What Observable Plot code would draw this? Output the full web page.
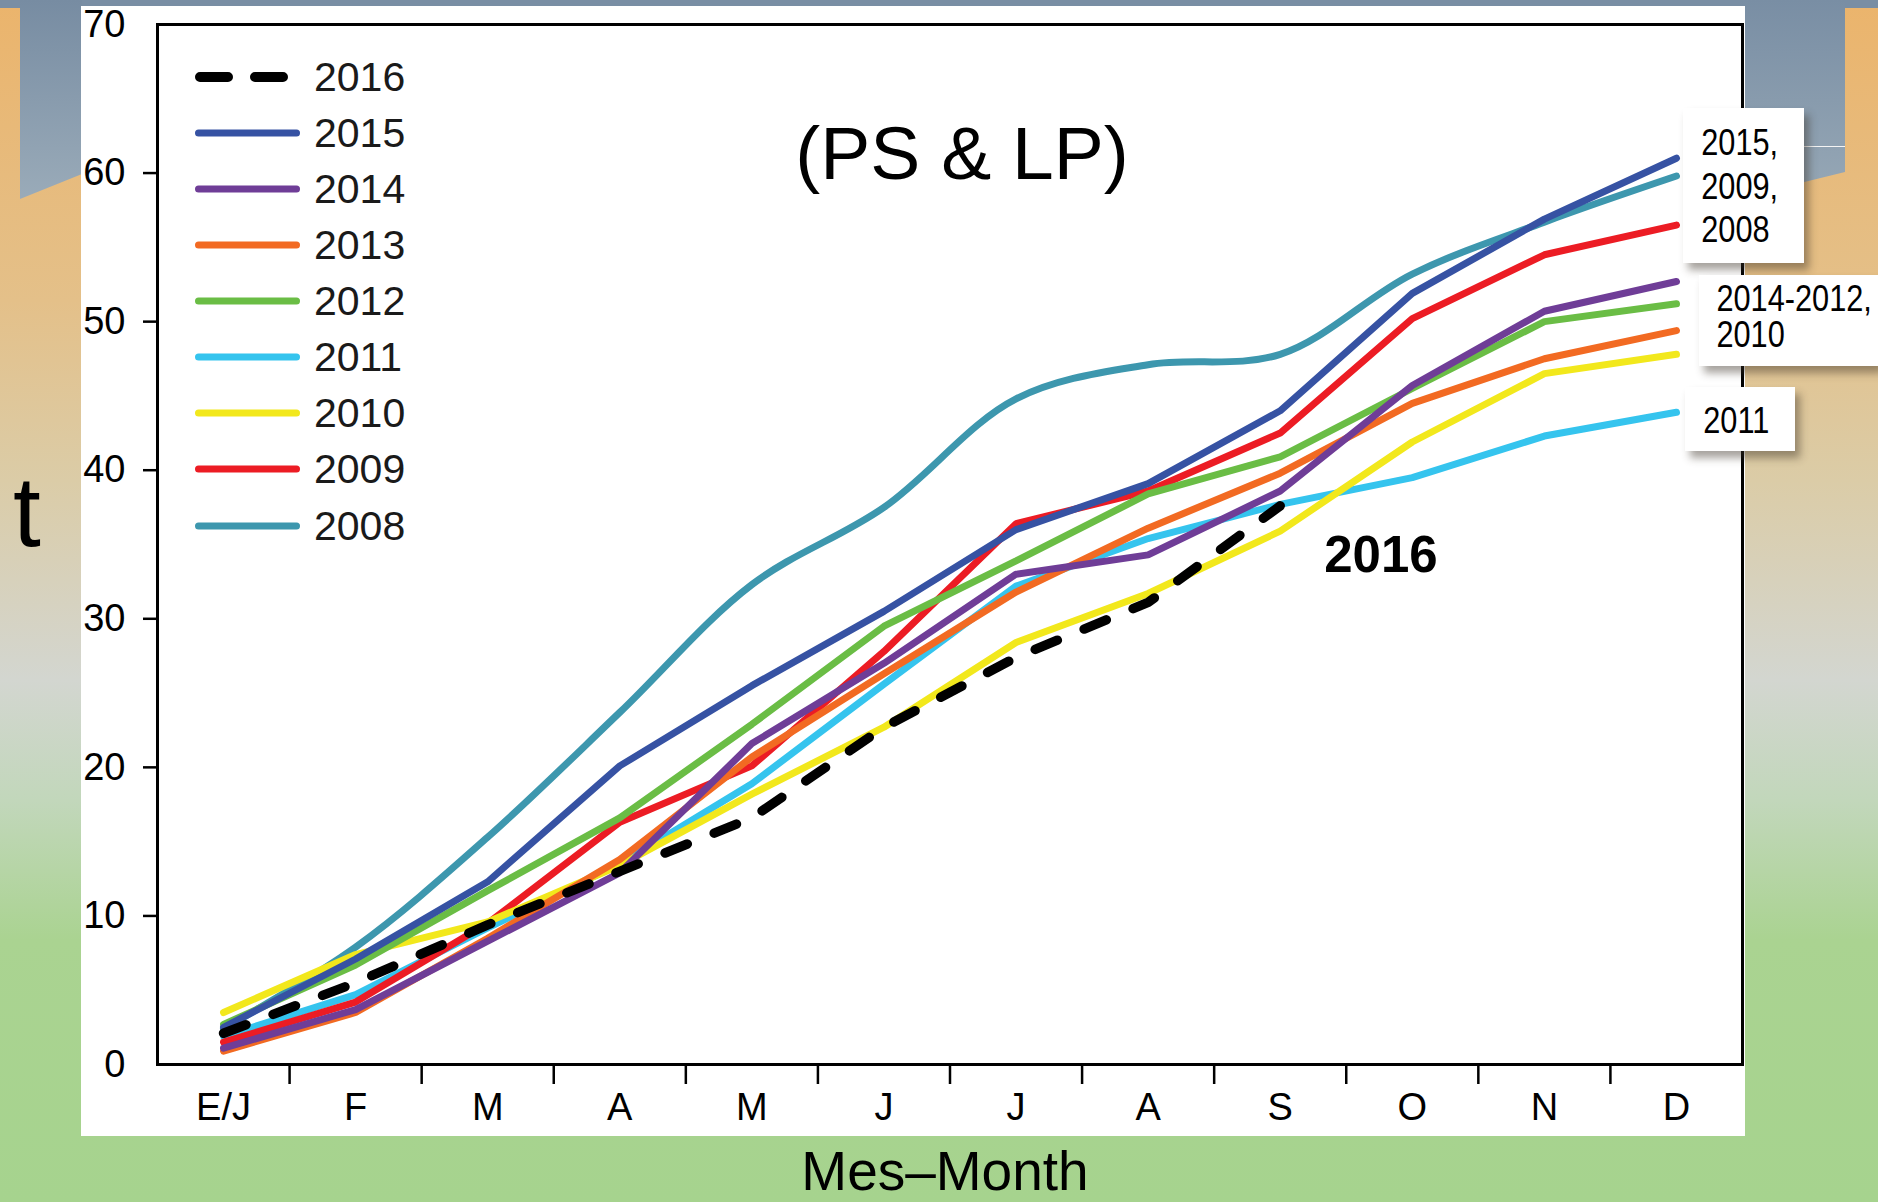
<!DOCTYPE html>
<html>
<head>
<meta charset="utf-8">
<script src="https://cdn.jsdelivr.net/npm/d3@7"></script>
<script src="https://cdn.jsdelivr.net/npm/@observablehq/plot@0.6"></script>
<style>
html, body { margin: 0; padding: 0; }
body {
  width: 1878px; height: 1202px; position: relative; overflow: hidden;
  background: linear-gradient(to bottom, #ebb46c 0px, #e4c089 300px, #dbcca7 480px, #d3d6d0 680px, #c2d7bb 800px, #aad391 940px, #a6d38e 1202px);
  font-family: "Liberation Sans", Arial, sans-serif;
}
.abs { position: absolute; }
#topstrip { left: 0; top: 0; width: 1878px; height: 8px; background: #798ea4; }
#leftblue { left: 20px; top: 0; width: 62px; height: 200px; background: linear-gradient(to bottom, #778ca2, #9aabb9); clip-path: polygon(0 0, 100% 0, 100% 174px, 0 199px); }
#rightblue { left: 1740px; top: 0; width: 105px; height: 200px; background: linear-gradient(to bottom, #798ea4, #97a8b6); clip-path: polygon(0 0, 100% 0, 100% 172px, 0 198px); }
#rightline { left: 1790px; top: 146px; width: 55px; height: 1px; background: #f4f4f4; }
#panel { left: 81px; top: 6px; width: 1664px; height: 1130px; background: #ffffff; }
#chart { left: 0; top: 0; }
#title { left: 0; width: 1924px; text-align: center; top: 116px; font-size: 75px; line-height: 75px; color: #000; }
#ylab { left: 13px; top: 461px; font-size: 100px; line-height: 100px; color: #000; }
#xlab { left: 0; width: 1890px; text-align: center; top: 1144px; font-size: 55px; line-height: 55px; color: #000; }
.lg { font-size: 41px; line-height: 41px; color: #1a1a1a; }
.box { background: #fff; box-shadow: 5px 7px 8px rgba(60, 50, 40, 0.45); font-size: 37px; color: #000; white-space: nowrap; overflow: hidden; }
.box .cond { display: inline-block; transform: scaleX(0.83); transform-origin: 0 0; }
</style>
</head>
<body>
<div id="topstrip" class="abs"></div>
<div id="leftblue" class="abs"></div>
<div id="rightblue" class="abs"></div>
<div id="rightline" class="abs"></div>
<div id="panel" class="abs"></div>
<div id="chart" class="abs"></div>
<div id="title" class="abs">(PS &amp; LP)</div>
<div id="ylab" class="abs">t</div>
<div id="xlab" class="abs">Mes–Month</div>
<div id="legend" class="abs" style="left:0;top:0;"></div>
<div class="abs box" style="left:1683px;top:108px;width:121px;height:155px;">
  <div class="cond" style="padding-top:13px;padding-left:22px;line-height:43.5px;">2015,<br>2009,<br>2008</div>
</div>
<div class="abs box" style="left:1699px;top:275px;width:179px;height:91px;">
  <div class="cond" style="padding-top:6px;padding-left:21px;line-height:35.5px;">2014-2012,<br>2010</div>
</div>
<div class="abs box" style="left:1685px;top:387px;width:110px;height:64px;">
  <div class="cond" style="padding-top:13px;padding-left:22px;line-height:41px;">2011</div>
</div>
<script>
// ---- data ----
const months = ["E/J", "F", "M", "A", "M", "J", "J", "A", "S", "O", "N", "D"];
const years = ["2016", "2015", "2014", "2013", "2012", "2011", "2010", "2009", "2008"];
const colors = ["#000000", "#3652a3", "#6f3d97", "#f26a22", "#6abd45", "#35c4ee", "#f2e81c", "#ec1c24", "#3d97ae"];
const yTicks = [0, 10, 20, 30, 40, 50, 60, 70];

const v2016 = [2.1, 5.5, 9.4, 13.0, 16.6, 22.7, 27.4, 31.1, 37.6];
const v2015 = [2.5, 7.1, 12.3, 20.1, 25.5, 30.5, 36.0, 39.1, 44.0, 51.9, 56.9, 61.0];
const v2014 = [1.1, 3.7, 8.3, 12.9, 21.6, 27.0, 33.0, 34.3, 38.6, 45.7, 50.7, 52.7];
const v2013 = [0.9, 3.5, 8.5, 13.8, 20.7, 26.3, 31.8, 36.1, 39.8, 44.5, 47.5, 49.4];
const v2012 = [2.7, 6.7, 11.7, 16.6, 22.9, 29.5, 33.9, 38.4, 40.9, 45.5, 50.0, 51.2];
const v2011 = [1.9, 4.7, 9.2, 13.5, 18.9, 25.6, 32.2, 35.4, 37.7, 39.5, 42.3, 43.9];
const v2010 = [3.5, 7.4, 9.6, 13.4, 18.2, 22.7, 28.4, 31.7, 35.9, 41.9, 46.5, 47.8];
const v2009 = [1.5, 4.2, 9.5, 16.3, 20.1, 27.8, 36.4, 38.6, 42.5, 50.2, 54.5, 56.5];
const v2008 = [2.4, 7.9, 15.3, 23.7, 32.3, 37.5, 44.8, 47.1, 47.8, 53.2, 56.7, 59.8];

const seriesValues = {"2016": v2016, "2015": v2015, "2014": v2014, "2013": v2013, "2012": v2012,
  "2011": v2011, "2010": v2010, "2009": v2009, "2008": v2008};
const drawOrder = ["2011", "2009", "2010", "2012", "2013", "2014", "2015"];

const toRows = (y) => seriesValues[y].map((v, i) => ({year: y, month: i, value: v}));
const rows2008 = toRows("2008");
const rowsSolid = drawOrder.flatMap(toRows);
const rows2016 = toRows("2016");

const chart = Plot.plot({
  width: 1878, height: 1202,
  marginLeft: 157, marginRight: 136, marginTop: 24, marginBottom: 138,
  x: {domain: [-0.5, 11.5], label: null},
  y: {domain: [0, 70], label: null},
  color: {domain: years, range: colors},
  style: {background: "transparent", overflow: "visible", fontFamily: "Liberation Sans, Arial, sans-serif", color: "black"},
  marks: [
    Plot.axisY({ticks: yTicks.slice(1, -1), tickSize: 14, tickFormat: () => "", strokeWidth: 2.5, label: null}),
    Plot.axisY({ticks: yTicks, tickSize: 0, tickPadding: 32, fontSize: 38, label: null}),
    Plot.axisX({ticks: d3.range(0.5, months.length - 1, 1), tickSize: 20, tickFormat: () => "", strokeWidth: 2.5, label: null}),
    Plot.axisX({ticks: d3.range(months.length), tickSize: 0, tickPadding: 29, fontSize: 38, tickFormat: (i) => months[i], label: null}),
    Plot.line(rows2008, {x: "month", y: "value", stroke: "year", strokeWidth: 7, curve: "catmull-rom"}),
    Plot.line(rowsSolid, {x: "month", y: "value", stroke: "year", z: "year", strokeWidth: 7, strokeLinejoin: "miter"}),
    Plot.line(rows2016, {x: "month", y: "value", stroke: "year", strokeWidth: 9.5, strokeDasharray: "24,29", strokeLinecap: "round"}),
    Plot.text(rows2016.slice(-1), {x: "month", y: "value", text: "year", dx: 44, dy: 50, textAnchor: "start", fontSize: 51, fontWeight: "bold", fill: "black"}),
    Plot.frame({stroke: "black", strokeWidth: 3})
  ]
});
document.getElementById("chart").appendChild(chart);

// ---- legend (inside the plot area, as in the reference) ----
const legend = document.getElementById("legend");
years.forEach((yr, i) => {
  const cy = 76.7 + i * 56.1;
  const ns = "http://www.w3.org/2000/svg";
  const svg = document.createElementNS(ns, "svg");
  svg.setAttribute("width", 120); svg.setAttribute("height", 20);
  svg.style.position = "absolute"; svg.style.left = "190px"; svg.style.top = (cy - 10) + "px";
  const ln = document.createElementNS(ns, "line");
  const dashed = yr === "2016";
  ln.setAttribute("x1", dashed ? 10 : 8.5); ln.setAttribute("x2", dashed ? 105 : 106.5);
  ln.setAttribute("y1", 10); ln.setAttribute("y2", 10);
  ln.setAttribute("stroke", colors[i]);
  ln.setAttribute("stroke-width", dashed ? 10 : 7);
  ln.setAttribute("stroke-linecap", "round");
  if (dashed) ln.setAttribute("stroke-dasharray", "28,27");
  svg.appendChild(ln);
  legend.appendChild(svg);
  const t = document.createElement("div");
  t.className = "abs lg";
  t.style.left = "314px"; t.style.top = (cy - 20) + "px";
  t.textContent = yr;
  legend.appendChild(t);
});
</script>
</body>
</html>
